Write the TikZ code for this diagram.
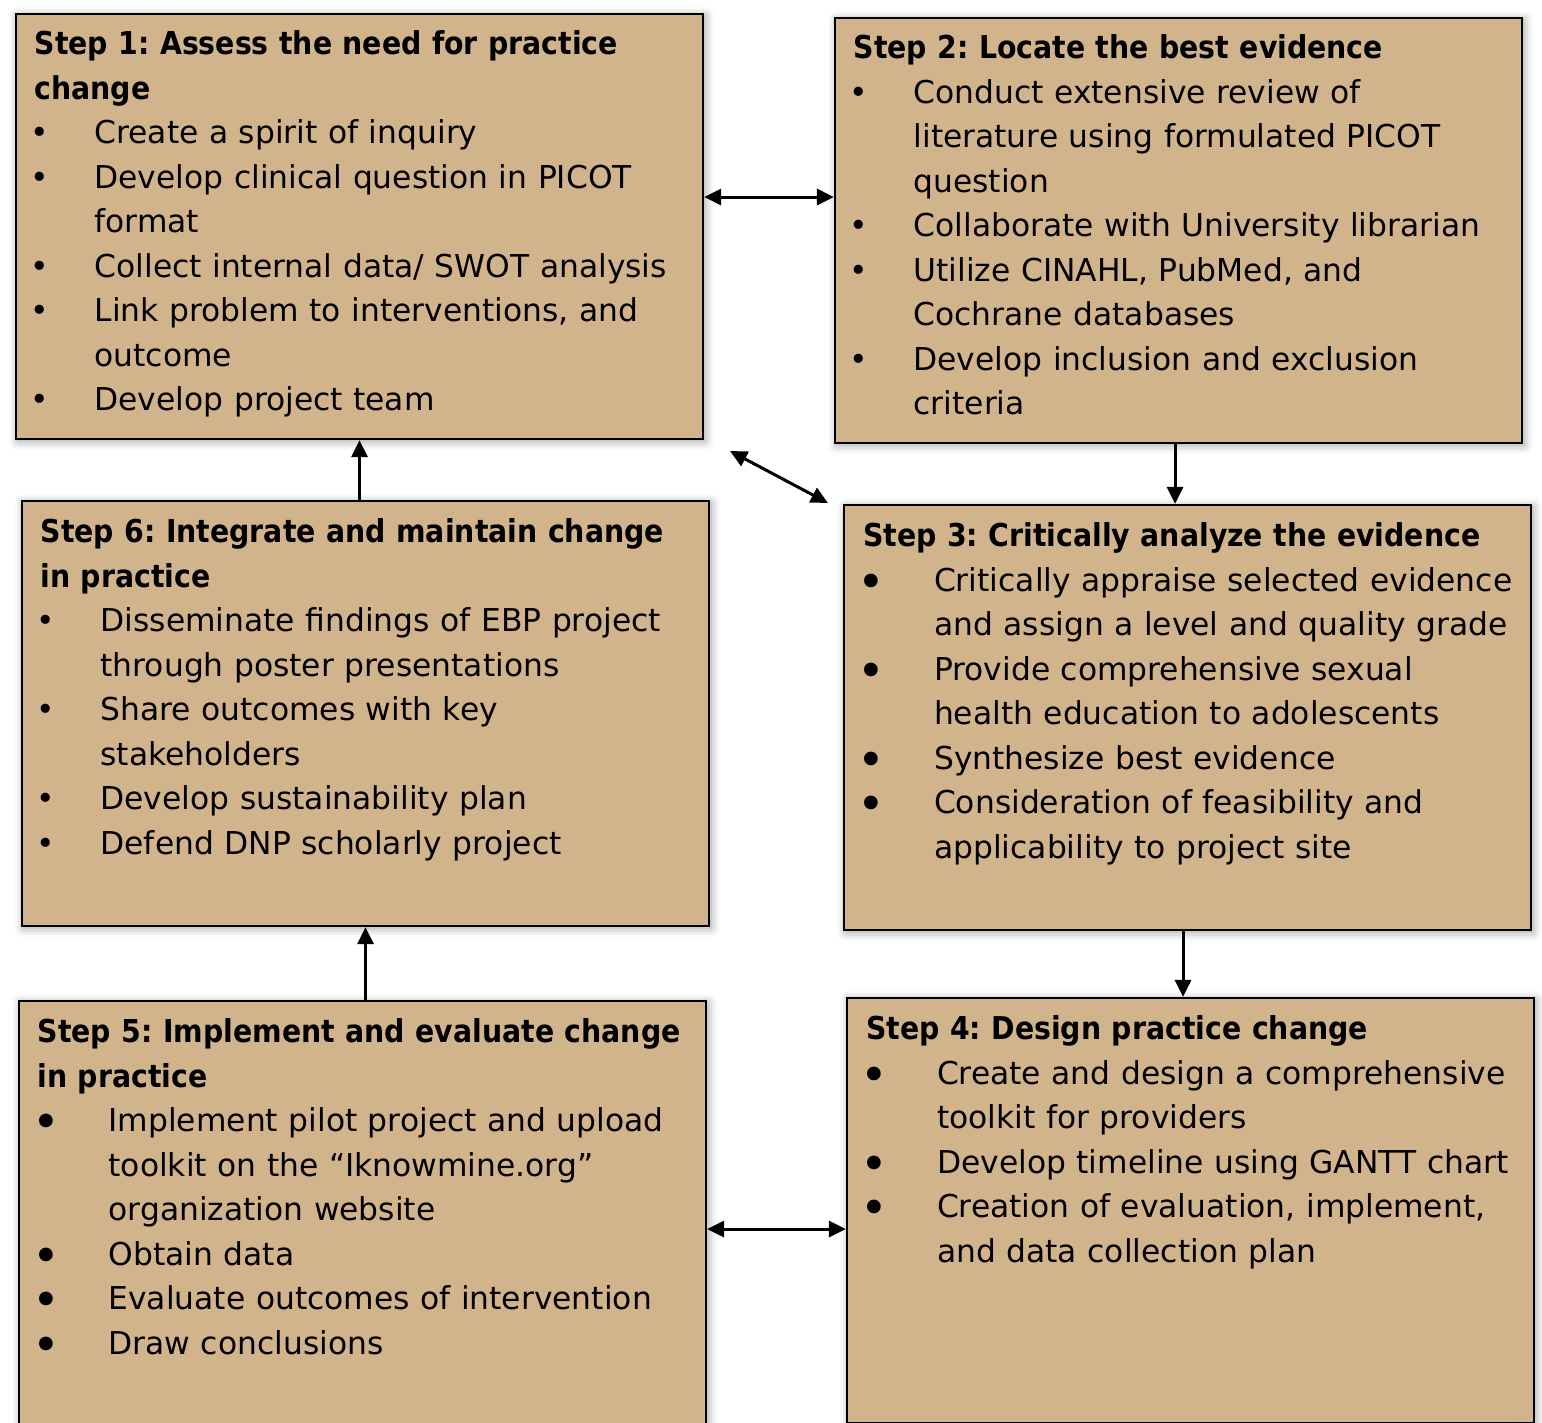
\documentclass[tikz,border=0pt]{standalone}
\usepackage{fontspec}
\setmainfont{DejaVu Sans}[FakeStretch=0.995,BoldFeatures={FakeStretch=0.9}]
\usetikzlibrary{positioning,arrows.meta,shadows.blur}
\definecolor{boxtan}{RGB}{210,180,140}
\frenchspacing

% bullets and hanging indents
\newcommand{\sbul}{\makebox[60pt][l]{\makebox[11pt]{\textbullet}}}
\newcommand{\bbul}{\makebox[71pt][l]{\makebox[17pt]{\raisebox{-7pt}{\scalebox{1.5}{\textbullet}}}}}
\newcommand{\sind}{\hspace*{60pt}}
\newcommand{\bind}{\hspace*{71pt}}

\begin{document}
\begin{tikzpicture}[x=1pt,y=-1pt,>={Triangle[length=17pt,width=16pt]},
	stepbox/.style={draw,line width=2.2pt,fill=boxtan,minimum width=687pt,minimum height=425pt,inner sep=0pt,
		blur shadow={shadow xshift=2pt,shadow yshift=-2pt,shadow blur radius=9pt}},
	steptext/.style={anchor=base west,inner sep=0pt,align=left,text width=680pt,
		font=\fontsize{31.5}{44.5}\selectfont},
	link/.style={line width=3pt,->},
	twoway/.style={line width=3pt,<->}]
	\useasboundingbox (0,0) rectangle (1542,1422);
	% boxes
	\node[stepbox] (s1) at (359.5,226.5) {};
	\node[stepbox] (s2) at (1178.5,230.5) {};
	\node[stepbox] (s6) at (365.5,713.5) {};
	\node[stepbox] (s3) at (1187.5,717.5) {};
	\node[stepbox] (s5) at (362.5,1213.5) {};
	\node[stepbox] (s4) at (1190.5,1210.5) {};
	% texts
	\node[steptext] (t1) at ([xshift=19.5pt,yshift=-42pt]s1.north west) {\textbf{Step 1: Assess the need for practice}\\
		\textbf{change}\\
		\sbul Create a spirit of inquiry\\
		\sbul Develop clinical question in PICOT\\
		\sind format\\
		\sbul Collect internal data/ SWOT analysis\\
		\sbul Link problem to interventions, and\\
		\sind outcome\\
		\sbul Develop project team};
	\node[steptext] (t2) at ([xshift=19.5pt,yshift=-42pt]s2.north west) {\textbf{Step 2: Locate the best evidence}\\
		\sbul Conduct extensive review of\\
		\sind literature using formulated PICOT\\
		\sind question\\
		\sbul Collaborate with University librarian\\
		\sbul Utilize CINAHL, PubMed, and\\
		\sind Cochrane databases\\
		\sbul Develop inclusion and exclusion\\
		\sind criteria};
	\node[steptext] (t6) at ([xshift=19.5pt,yshift=-43pt]s6.north west) {\textbf{Step 6: Integrate and maintain change}\\
		\textbf{in practice}\\
		\sbul Disseminate findings of EBP project\\
		\sind through poster presentations\\
		\sbul Share outcomes with key\\
		\sind stakeholders\\
		\sbul Develop sustainability plan\\
		\sbul Defend DNP scholarly project};
	\node[steptext] (t3) at ([xshift=20pt,yshift=-43pt]s3.north west) {\textbf{Step 3: Critically analyze the evidence}\\
		\bbul Critically appraise selected evidence\\
		\bind and assign a level and quality grade\\
		\bbul Provide comprehensive sexual\\
		\bind health education to adolescents\\
		\bbul Synthesize best evidence\\
		\bbul Consideration of feasibility and\\
		\bind applicability to project site};
	\node[steptext] (t5) at ([xshift=19.5pt,yshift=-43pt]s5.north west) {\textbf{Step 5: Implement and evaluate change}\\
		\textbf{in practice}\\
		\bbul Implement pilot project and upload\\
		\bind toolkit on the “Iknowmine.org”\\
		\bind organization website\\
		\bbul Obtain data\\
		\bbul Evaluate outcomes of intervention\\
		\bbul Draw conclusions};
	\node[steptext] (t4) at ([xshift=20pt,yshift=-43pt]s4.north west) {\textbf{Step 4: Design practice change}\\
		\bbul Create and design a comprehensive\\
		\bind toolkit for providers\\
		\bbul Develop timeline using GANTT chart\\
		\bbul Creation of evaluation, implement,\\
		\bind and data collection plan};
	% connectors
	\draw[twoway] ([yshift=29.5pt]s1.east) -- ([yshift=29.5pt]s1.east -| s2.west);
	\coordinate (d1) at (730,451);
	\coordinate (d2) at (828,503);
	\draw[twoway] (d1) -- (d2);
	\draw[link] ([xshift=-3.5pt]s2.south) -- ([xshift=-3.5pt]s2.south |- s3.north);
	\draw[link] ([xshift=-4.5pt]s3.south) -- ([xshift=-4.5pt]s3.south |- s4.north);
	\draw[link] (s6.north -| s1.south) -- (s1.south);
	\draw[link] (s5.north -| s6.south) -- (s6.south);
	\draw[twoway] ([yshift=-15.5pt]s5.east) -- ([yshift=-15.5pt]s5.east -| s4.west);
\end{tikzpicture}
\end{document}
